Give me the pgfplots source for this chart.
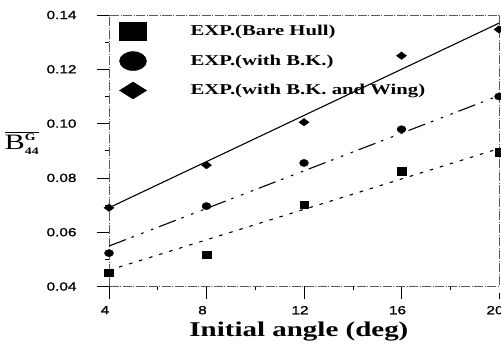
\documentclass[border=0pt]{standalone}
\usepackage{pgfplots}
\pgfplotsset{compat=1.18}
\usepackage{fontspec}
\setmainfont{Liberation Serif}[FakeStretch=1.38]
\setsansfont{Liberation Sans}[FakeStretch=1.3, FakeBold=1.2]
\begin{document}
\begin{tikzpicture}
\useasboundingbox (-109pt,-58.5pt) rectangle (392pt,286.5pt);
\begin{axis}[
  scale only axis,
  width=390pt, height=271.5pt,
  at={(0,0)}, anchor=south west,
  xmin=4, xmax=20, ymin=0.04, ymax=0.14,
  xtick={4,8,12,16,20},
  minor xtick={6,10,14,18},
  ytick={0.04,0.06,0.08,0.10,0.12,0.14},
  minor ytick={0.05,0.07,0.09,0.11,0.13},
  tick align=outside,
  xtick pos=left, ytick pos=left,
  major tick length=12pt, minor tick length=4pt,
  major x tick style={shorten >=7pt},
  tick style={black, line width=0.5pt},
  axis line style={black!65, line width=0.5pt, dash pattern=on 9pt off 1.5pt on 1pt off 1.5pt},
  /pgf/number format/assume math mode=true,
  yticklabel style={/pgf/number format/fixed, /pgf/number format/fixed zerofill, /pgf/number format/precision=2, font=\sffamily\fontsize{11.8}{13}\selectfont, xshift=-17pt},
  xticklabel style={font=\sffamily\fontsize{11.8}{13}\selectfont, yshift=-4pt, xshift=-4pt},
  scaled y ticks=false,
  xlabel={\bfseries Initial angle (deg)},
  every axis x label/.style={at={(axis description cs:0.487,0)}, anchor=base, yshift=-50.5pt, font=\fontsize{21}{24}\selectfont},
  ylabel={$\overline{\mbox{B}^{\mbox{\fontsize{10}{10}\selectfont\bfseries G}}_{\mbox{\fontsize{10}{10}\selectfont\bfseries 44}}}$},
  every axis y label/.style={at={(axis description cs:0,0.5285)}, anchor=center, xshift=-87pt, font=\fontsize{22}{24}\selectfont},
  legend style={draw=none, fill=none, at={(axis description cs:0.026,0.975)}, anchor=north west,
    font=\bfseries\fontsize{15}{17}\selectfont, row sep=11pt, column sep=0pt, inner sep=0pt},
  legend cell align=left,
]
% data points
\addplot[only marks, mark=square*, mark size=4.3pt, mark options={yscale=0.85}, black,
  legend image code/.code={\fill[black] (0pt,-9pt) rectangle (27pt,9pt); \path[draw=none] (0pt,0pt) -- (69pt,0pt);}]
  coordinates {(4,0.0450) (8,0.0518) (12,0.0702) (16,0.0825) (20,0.0895)};
\addlegendentry{EXP.(Bare Hull)}
\addplot[only marks, mark=*, mark size=4.5pt, mark options={yscale=0.8}, black,
  legend image code/.code={\fill[black] (13.5pt,0pt) ellipse (13.5pt and 9.5pt); \path[draw=none] (0pt,0pt) -- (69pt,0pt);}]
  coordinates {(4,0.0523) (8,0.0696) (12,0.0855) (16,0.0979) (20,0.1100)};
\addlegendentry{EXP.(with B.K.)}
\addplot[only marks, mark=diamond*, mark size=5pt, mark options={rotate=90}, black,
  legend image code/.code={\fill[black] (0pt,0pt) -- (13.5pt,8.5pt) -- (27pt,0pt) -- (13.5pt,-8.5pt) -- cycle; \path[draw=none] (0pt,0pt) -- (69pt,0pt);}]
  coordinates {(4,0.0690) (8,0.0847) (12,0.1005) (16,0.1250) (20,0.1347)};
\addlegendentry{EXP.(with B.K. and Wing)}
% fitted lines
\addplot[forget plot, black, line width=1.1pt] coordinates {(4,0.0690) (20,0.1370)};
\addplot[forget plot, black, line width=1.1pt, dash pattern=on 18pt off 6pt on 2.5pt off 8pt on 2.5pt off 8pt on 2.5pt off 6pt] coordinates {(4,0.0549) (20,0.1103)};
\addplot[forget plot, black, line width=1.1pt, dash pattern=on 3.5pt off 7pt] coordinates {(4,0.0460) (20,0.0908)};
\end{axis}
\end{tikzpicture}
\end{document}
